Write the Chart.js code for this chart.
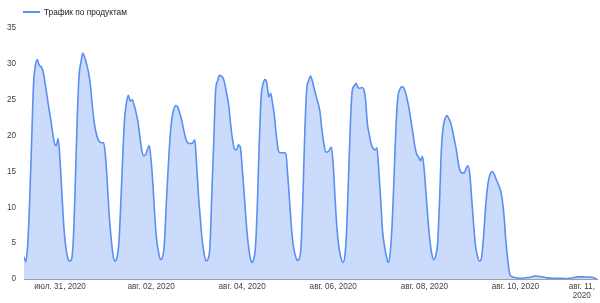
<!DOCTYPE html>
<html>
<head>
<meta charset="utf-8">
<script src="https://cdn.jsdelivr.net/npm/chart.js@4/dist/chart.umd.min.js"></script>
<style>
  body { margin: 0; background: #fff; }
  #wrap { width: 600px; height: 303px; }
</style>
</head>
<body>
<div id="wrap"><canvas id="trafficChart" width="600" height="303"></canvas></div>
<script>
// почасовые значения, первый час = 30 июля 05:00
const startHour = -19;
const jul30 = [3.1, 2.4, 5.0, 11, 19, 27, 29.8, 30.6, 29.8, 29.6, 29.0, 27.5, 25.8, 24.0, 22.4, 20.6, 19.0, 18.6, 19.6];
const jul31 = [16.5, 11.8, 7.3, 4.5, 3.0, 2.5, 2.7, 5.5, 13, 22, 28.3, 30.2, 31.5, 30.9, 30.0, 28.8, 27.0, 24.2, 21.8, 20.4, 19.5, 19.1, 19.0, 19.0];
const aug01 = [17.0, 13.0, 8.5, 5.5, 3.2, 2.5, 3.0, 5.0, 10.5, 16.8, 22.3, 24.6, 25.6, 24.8, 25.0, 24.3, 23.3, 22.0, 20.0, 18.1, 17.2, 17.3, 18.0, 18.6];
const aug02 = [16.5, 13.0, 8.5, 5.3, 3.6, 2.7, 3.0, 5.0, 10.5, 15.5, 19.8, 22.5, 23.7, 24.2, 24.0, 23.2, 22.3, 21.0, 19.8, 19.1, 18.9, 18.9, 19.0, 19.4];
const aug03 = [15.8, 11.5, 8.2, 5.2, 3.4, 2.5, 2.8, 4.5, 12.0, 19.0, 26.3, 27.6, 28.4, 28.3, 28.0, 27.0, 25.6, 24.0, 21.3, 19.3, 18.1, 18.0, 18.7, 18.4];
const aug04 = [15.5, 12.0, 8.3, 5.3, 3.3, 2.3, 2.7, 4.5, 10.5, 19.0, 25.5, 27.2, 27.8, 27.3, 25.4, 25.9, 24.5, 22.7, 20.0, 18.0, 17.6, 17.6, 17.6, 17.5];
const aug05 = [14.5, 10.8, 7.0, 4.5, 3.3, 2.6, 2.8, 4.5, 11.5, 20.5, 26.5, 27.6, 28.3, 27.6, 26.5, 25.5, 24.5, 23.3, 20.8, 19.0, 17.7, 17.7, 18.0, 18.4];
const aug06 = [15.8, 11.0, 6.9, 4.4, 3.0, 2.3, 3.0, 6.5, 13.8, 21.5, 26.3, 26.9, 27.3, 26.7, 26.6, 26.7, 26.5, 25.0, 21.6, 20.1, 18.8, 18.2, 18.0, 18.3];
const aug07 = [15.1, 11.0, 6.6, 4.6, 3.2, 2.3, 3.7, 7.5, 14.0, 21.0, 25.3, 26.4, 26.8, 26.7, 26.1, 25.0, 23.7, 22.0, 20.3, 18.5, 17.4, 17.0, 16.5, 17.1];
const aug08 = [15.0, 11.5, 8.0, 5.2, 3.4, 2.7, 3.3, 5.0, 10.8, 18.2, 21.3, 22.4, 22.8, 22.3, 21.7, 20.5, 19.2, 17.8, 16.0, 15.0, 14.8, 14.8, 15.4, 15.8];
const aug09 = [14.5, 11.0, 7.5, 4.6, 3.2, 2.5, 2.8, 5.2, 9.0, 12.2, 14.0, 14.8, 15.0, 14.5, 13.8, 13.2, 12.5, 11.2, 8.8, 5.2, 2.6, 0.7, 0.35, 0.25];
const aug10 = [0.2, 0.15, 0.1, 0.1, 0.1, 0.15, 0.2, 0.2, 0.25, 0.35, 0.4, 0.4, 0.35, 0.35, 0.3, 0.25, 0.2, 0.15, 0.15, 0.1, 0.1, 0.1, 0.1, 0.1];
const aug11 = [0.1, 0.1, 0.05, 0.05, 0.1, 0.1, 0.15, 0.2, 0.25, 0.3, 0.3, 0.3, 0.3, 0.28, 0.28, 0.25, 0.25, 0.2, 0.1, 0.0];

const tickHours = [0, 48, 96, 144, 192, 240, 275];
const tickLabels = ['июл. 31, 2020', 'авг. 02, 2020', 'авг. 04, 2020', 'авг. 06, 2020', 'авг. 08, 2020', 'авг. 10, 2020', ['авг. 11,', '2020']];
const yTicks = [0, 5, 10, 15, 20, 25, 30, 35];

const seriesLabel = 'Трафик по продуктам';
const lineColor = '#5a8ff2';
const fontFamily = '"Liberation Sans", Arial, sans-serif';

const values = [].concat(jul30, jul31, aug01, aug02, aug03, aug04, aug05, aug06, aug07, aug08, aug09, aug10, aug11);
const points = values.map((v, i) => ({ x: startHour + i, y: v }));

// легенда сверху слева
const topLegend = {
    id: 'topLegend',
    afterDraw(chart) {
        const ctx = chart.ctx;
        const ds = chart.data.datasets[0];
        ctx.save();
        ctx.fillStyle = ds.borderColor;
        ctx.fillRect(23, 11, 17, 2);
        ctx.font = `8.3px ${fontFamily}`;
        ctx.fillStyle = '#222';
        ctx.textBaseline = 'alphabetic';
        ctx.fillText(ds.label, 44, 14.7);
        ctx.restore();
    }
};

const ctx = document.getElementById('trafficChart').getContext('2d');
const chart = new Chart(ctx, {
    type: 'line',
    data: {
        datasets: [{
            label: seriesLabel,
            data: points,
            borderColor: lineColor,
            backgroundColor: 'rgba(90, 143, 242, 0.32)',
            borderWidth: 1.6,
            fill: 'origin',
            cubicInterpolationMode: 'monotone',
            pointRadius: 0
        }]
    },
    options: {
        responsive: false,
        animation: false,
        devicePixelRatio: 1,
        layout: { padding: { left: 0, right: 3, top: 28, bottom: 0 } },
        plugins: {
            legend: { display: false },
            tooltip: { enabled: false }
        },
        scales: {
            x: {
                type: 'linear',
                min: startHour,
                max: startHour + values.length - 1,
                afterBuildTicks: axis => {
                    axis.ticks = tickHours.map(v => ({ value: v }));
                },
                afterFit: axis => { axis.height = 24; },
                grid: { display: false, drawTicks: false },
                border: { display: true, color: '#9e9e9e', width: 1 },
                ticks: {
                    autoSkip: false,
                    maxRotation: 0,
                    padding: 3,
                    color: '#444',
                    font: { size: 8.2, family: fontFamily, lineHeight: 1.1 },
                    callback: (value, index) => tickLabels[index]
                }
            },
            y: {
                min: 0,
                max: 35,
                afterBuildTicks: axis => {
                    axis.ticks = yTicks.map(v => ({ value: v }));
                },
                afterFit: axis => { axis.width = 24; },
                grid: { display: false, drawTicks: false },
                border: { display: false },
                ticks: {
                    padding: 8,
                    color: '#444',
                    font: { size: 8.2, family: fontFamily }
                }
            }
        }
    },
    plugins: [topLegend]
});
</script>
</body>
</html>
